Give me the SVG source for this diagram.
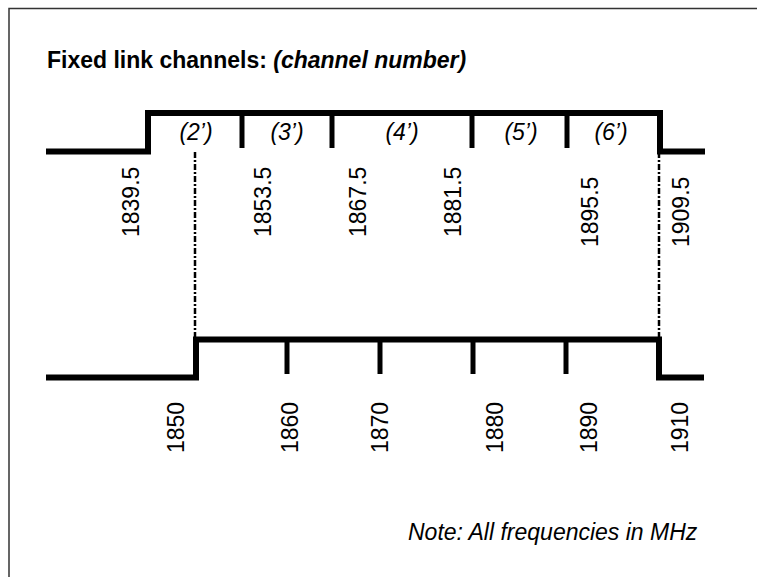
<svg xmlns="http://www.w3.org/2000/svg" width="757" height="577" viewBox="0 0 757 577">
<style>
  text { font-family: "Liberation Sans", Arial, sans-serif; fill: #000; }
  .title { font-size: 23px; font-weight: bold; }
  .ch { font-size: 23px; font-style: italic; text-anchor: middle; }
  .freq { font-size: 23px; }
  .note { font-size: 23px; font-style: italic; }
  .trace { fill: none; stroke: #000; stroke-width: 6; stroke-linejoin: miter; stroke-linecap: butt; }
  .tick { stroke: #000; stroke-width: 5; }
  .guide { stroke: #000; stroke-width: 2.5; stroke-dasharray: 6 2 2 2; }
  .frame { fill: none; stroke: #333; stroke-width: 1.5; }
</style>
<rect width="757" height="577" fill="#fff"/>
<path class="frame" d="M9,577 V8.5 H757"/>
<g id="title">
  <text class="title" x="47" y="68">Fixed link channels: <tspan font-style="italic">(channel number)</tspan></text>
</g>
<g id="connectors">
  <line class="guide" x1="195" y1="152" x2="195" y2="337"/>
  <line class="guide" x1="659" y1="152" x2="659" y2="337"/>
</g>
<g id="upper-band">
  <polyline class="trace" points="46,151.5 148,151.5 148,113 660,113 660,151.5 705,151.5"/>
  <line class="tick" x1="242" y1="113" x2="242" y2="148"/>
  <line class="tick" x1="332" y1="113" x2="332" y2="148"/>
  <line class="tick" x1="472" y1="113" x2="472" y2="148"/>
  <line class="tick" x1="567" y1="113" x2="567" y2="148"/>
  <text class="ch" x="196" y="140">(2’)</text>
  <text class="ch" x="287" y="140">(3’)</text>
  <text class="ch" x="402" y="140">(4’)</text>
  <text class="ch" x="521" y="140">(5’)</text>
  <text class="ch" x="611" y="140">(6’)</text>
  <text class="freq" transform="translate(139,237) rotate(-90)">1839.5</text>
  <text class="freq" transform="translate(271,237) rotate(-90)">1853.5</text>
  <text class="freq" transform="translate(366,237) rotate(-90)">1867.5</text>
  <text class="freq" transform="translate(461,237) rotate(-90)">1881.5</text>
  <text class="freq" transform="translate(598,247) rotate(-90)">1895.5</text>
  <text class="freq" transform="translate(689,247) rotate(-90)">1909.5</text>
</g>
<g id="lower-band">
  <polyline class="trace" points="46,377.5 196,377.5 196,339.5 659,339.5 659,377.5 704,377.5"/>
  <line class="tick" x1="287" y1="339.5" x2="287" y2="374"/>
  <line class="tick" x1="380" y1="339.5" x2="380" y2="374"/>
  <line class="tick" x1="473" y1="339.5" x2="473" y2="374" stroke-width="6.5"/>
  <line class="tick" x1="566" y1="339.5" x2="566" y2="374"/>
  <text class="freq" transform="translate(184,453) rotate(-90)">1850</text>
  <text class="freq" transform="translate(298,453) rotate(-90)">1860</text>
  <text class="freq" transform="translate(388,453) rotate(-90)">1870</text>
  <text class="freq" transform="translate(503,453) rotate(-90)">1880</text>
  <text class="freq" transform="translate(597,453) rotate(-90)">1890</text>
  <text class="freq" transform="translate(688,453) rotate(-90)">1910</text>
</g>
<g id="note">
  <text class="note" x="408" y="540">Note: All frequencies in MHz</text>
</g>
</svg>
